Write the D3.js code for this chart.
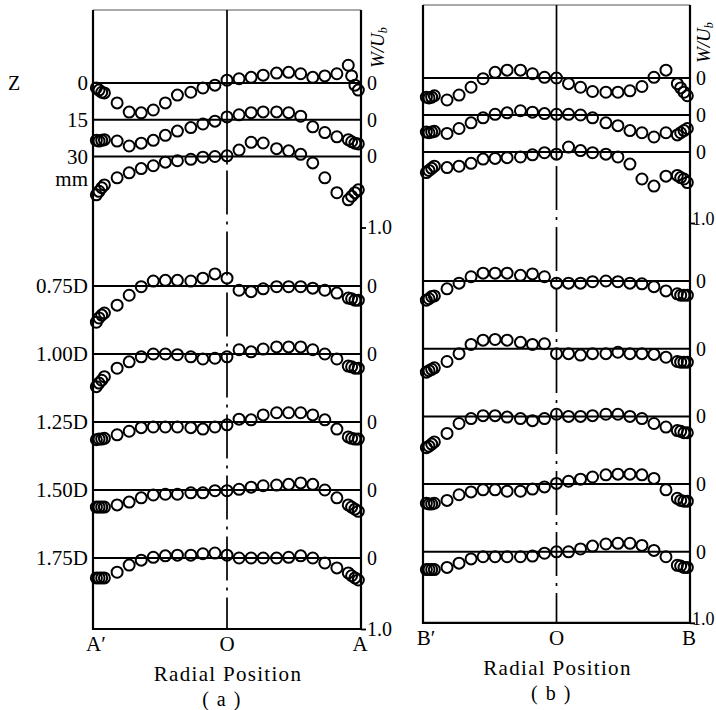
<!DOCTYPE html>
<html>
<head>
<meta charset="utf-8">
<script src="https://cdn.jsdelivr.net/npm/d3@7"></script>
<style>
body { margin: 0; background: #fff; }
svg { display: block; }
text { font-family: "Liberation Serif", "Times New Roman", serif; fill: #000; }
</style>
</head>
<body>
<svg id="chart" width="716" height="710"></svg>
<script>
// radial position r/R of every measuring point (same for all profiles)
const radial = [-0.975, -0.955, -0.935, -0.915,
    -0.82, -0.73, -0.64, -0.55, -0.46, -0.37, -0.27, -0.18, -0.09, 0,
    0.09, 0.18, 0.27, 0.37, 0.46, 0.55, 0.64, 0.73, 0.82,
    0.905, 0.93, 0.955, 0.98];

const stationLabels = ["0", "15", "30", "0.75D", "1.00D", "1.25D", "1.50D", "1.75D"];

// W/Ub (downward = positive)
const profilesA = [
    [.07, .10, .13, .14, .28, .41, .42, .38, .28, .17, .13, .07, .03, -.04, -.06, -.08, -.11, -.14, -.15, -.13, -.08, -.10, -.13, -.25, -.10, .03, .10],
    [.29, .30, .29, .28, .30, .37, .33, .29, .22, .16, .11, .06, .02, -.04, -.07, -.10, -.11, -.11, -.10, -.05, .10, .18, .24, .28, .31, .33, .34],
    [.54, .49, .44, .40, .30, .23, .17, .13, .08, .06, .04, .01, 0, -.01, -.09, -.20, -.19, -.11, -.08, -.03, .09, .30, .51, .61, .56, .51, .47],
    [.51, .45, .41, .38, .27, .13, .01, -.07, -.08, -.08, -.07, -.11, -.17, -.11, .06, .08, .04, .01, .01, .01, .03, .06, .10, .17, .18, .20, .20],
    [.46, .41, .37, .32, .20, .11, .04, 0, 0, .01, .04, .07, .06, .04, -.06, -.03, -.07, -.10, -.10, -.10, -.06, 0, .07, .17, .18, .20, .20],
    [.25, .24, .24, .23, .18, .13, .08, .07, .07, .07, .08, .10, .07, .04, -.04, -.03, -.10, -.13, -.13, -.13, -.10, -.03, .10, .21, .23, .24, .24],
    [.24, .24, .24, .24, .21, .17, .11, .07, .06, .06, .04, .04, .01, .01, -.01, -.04, -.06, -.07, -.08, -.10, -.08, 0, .11, .21, .24, .27, .30],
    [.28, .28, .28, .28, .20, .10, .03, -.01, -.03, -.04, -.04, -.06, -.07, -.04, 0, 0, 0, 0, -.01, -.03, 0, .07, .14, .21, .25, .28, .31]
];

const profilesB = [
    [.27, .28, .27, .25, .31, .24, .13, .01, -.08, -.11, -.11, -.06, -.01, 0, .08, .13, .19, .20, .20, .18, .12, -.01, -.11, .08, .14, .20, .25],
    [.24, .25, .24, .23, .26, .19, .11, .04, -.01, -.03, -.06, -.04, -.02, -.01, -.01, 0, .04, .11, .15, .22, .25, .31, .25, .28, .25, .22, .19],
    [.29, .26, .23, .20, .22, .20, .16, .10, .09, .08, .07, .04, .01, .03, -.07, -.02, .01, .03, .07, .17, .38, .48, .34, .33, .36, .38, .43],
    [.27, .25, .22, .21, .11, .03, -.06, -.11, -.11, -.11, -.08, -.10, -.06, .03, .03, .03, .01, 0, .01, .03, .04, .08, .14, .18, .20, .20, .20],
    [.33, .31, .29, .27, .18, .07, -.06, -.12, -.13, -.12, -.09, -.06, -.07, .07, .07, .09, .07, .07, .05, .07, .07, .08, .12, .18, .19, .19, .19],
    [.44, .42, .39, .36, .24, .10, .03, -.01, -.01, .01, .03, .06, .03, -.03, 0, 0, -.01, -.03, -.03, 0, .03, .10, .15, .20, .21, .23, .23],
    [.27, .28, .28, .27, .23, .15, .11, .08, .08, .10, .10, .07, .04, -.01, -.04, -.07, -.10, -.13, -.14, -.14, -.13, -.08, .08, .20, .23, .24, .24],
    [.25, .25, .25, .25, .22, .16, .10, .07, .07, .07, .07, .06, .02, 0, 0, -.04, -.08, -.11, -.12, -.12, -.09, -.02, .07, .19, .20, .22, .22]
];

const cfg = {
    unit: 71,        // px for W/Ub = 1.0
    dotR: 5.5,
    dotStroke: 2,
    lineW: 2,
};

const panels = [
    { name: "a", data: profilesA, left: 93, right: 361, top: 10, firstRow: 83, mmStep: 36.75, dRow: 286, dStep: 68,
      ends: ["A\u2032", "O", "A"], rowLabels: true, titleDx: 23, scaleFont: 20, scaleX: 6, scaleDy: 0 },
    { name: "b", data: profilesB, left: 423, right: 690, top: 5, firstRow: 78, mmStep: 37, dRow: 281, dStep: 67.7,
      ends: ["B\u2032", "O", "B"], rowLabels: false, titleDx: 20, scaleFont: 18, scaleX: 2, scaleDy: -4 }
];

const svg = d3.select("#chart");
const wScale = d3.scaleLinear().domain([0, 1]).range([0, cfg.unit]);

function rowY(p, i) {
    return i < 3 ? p.firstRow + i * p.mmStep : p.dRow + (i - 3) * p.dStep;
}

function drawPanel(p) {
    const x = d3.scaleLinear().domain([-1, 1]).range([p.left, p.right]);
    const bottom = rowY(p, 7) + wScale(1);
    const g = svg.append("g").attr("class", "panel-" + p.name);
    const cx = x(0);

    // frame
    g.append("line").attr("x1", p.left).attr("x2", p.right).attr("y1", p.top).attr("y2", p.top)
        .attr("stroke", "#555").attr("stroke-width", 1);
    g.append("path")
        .attr("d", `M${p.left},${p.top}V${bottom}H${p.right}V${p.top}`)
        .attr("fill", "none").attr("stroke", "#000").attr("stroke-width", 2.2);

    // centre line: solid through the mm stations, dash-dot below
    const splitY = rowY(p, 2) + 8;
    g.append("line").attr("x1", cx).attr("x2", cx).attr("y1", p.top).attr("y2", splitY)
        .attr("stroke", "#000").attr("stroke-width", 1.7);
    g.append("line").attr("x1", cx).attr("x2", cx).attr("y1", splitY + 6).attr("y2", bottom)
        .attr("stroke", "#000").attr("stroke-width", 1.7)
        .attr("stroke-dasharray", "44,7,3,7");

    p.data.forEach((vals, i) => {
        const y0 = rowY(p, i);
        const y = d3.scaleLinear().domain([0, 1]).range([y0, y0 + wScale(1)]);

        g.append("line").attr("x1", p.left).attr("x2", p.right).attr("y1", y(0)).attr("y2", y(0))
            .attr("stroke", "#000").attr("stroke-width", cfg.lineW);

        // right axis: 0 at every station, 1.0 scale mark below 30 mm and 1.75D
        const ticks = (i === 2 || i === 7) ? [0, 1] : [0];
        const ax = g.append("g")
            .attr("transform", `translate(${p.right},0)`)
            .call(d3.axisRight(y).tickValues(ticks).tickSize(5).tickPadding(3)
                .tickFormat(d => d === 0 ? "0" : "1.0"));
        ax.select(".domain").remove();
        ax.selectAll(".tick").filter(d => d === 0).select("line").remove();
        ax.selectAll(".tick line").attr("stroke", "#000").attr("stroke-width", 1.8);
        ax.selectAll("text")
            .attr("font-family", "Liberation Serif, serif")
            .attr("font-size", d => d === 0 ? 20 : p.scaleFont)
            .attr("fill", "#000")
            .attr("x", d => d === 0 ? 6 : p.scaleX)
            .attr("y", d => d === 0 ? 0 : p.scaleDy);

        g.append("g").selectAll("circle")
            .data(vals.map((v, k) => [radial[k], v]))
            .join("circle")
            .attr("cx", d => x(d[0]))
            .attr("cy", d => y(d[1]))
            .attr("r", cfg.dotR)
            .attr("fill", "none")
            .attr("stroke", "#000")
            .attr("stroke-width", cfg.dotStroke);

        if (p.rowLabels) {
            g.append("text")
                .attr("x", p.left - 5)
                .attr("y", y0)
                .attr("dy", "0.35em")
                .attr("text-anchor", "end")
                .attr("font-size", 21)
                .text(stationLabels[i]);
        }
    });

    if (p.rowLabels) {
        g.append("text").attr("x", 8).attr("y", rowY(p, 0)).attr("dy", "0.35em")
            .attr("font-size", 20).text("Z");
        g.append("text").attr("x", p.left - 5).attr("y", rowY(p, 2) + 23).attr("dy", "0.3em")
            .attr("text-anchor", "end").attr("font-size", 21).text("mm");
    }

    // W/Ub axis title
    const t = g.append("text")
        .attr("transform", `translate(${p.right + p.titleDx},${p.top + 58}) rotate(-90)`)
        .attr("font-size", 19);
    t.append("tspan").attr("font-style", "italic").text("W/U");
    t.append("tspan").attr("font-style", "italic").attr("font-size", 12).attr("dy", 3).text("b");

    // ends of the traverse
    const endX = [p.left + 3, cx, p.right - 1];
    p.ends.forEach((s, k) => {
        g.append("text").attr("x", endX[k]).attr("y", bottom + 22)
            .attr("text-anchor", "middle").attr("font-size", 21).text(s);
    });
    g.append("text").attr("x", cx + 1).attr("y", bottom + 52)
        .attr("text-anchor", "middle").attr("font-size", 21)
        .attr("letter-spacing", 1.3).text("Radial Position");
    g.append("text").attr("x", cx - 5).attr("y", bottom + 77)
        .attr("text-anchor", "middle").attr("font-size", 20)
        .attr("letter-spacing", 1.5).text("( " + p.name + " )");
}

panels.forEach(drawPanel);
</script>
</body>
</html>
